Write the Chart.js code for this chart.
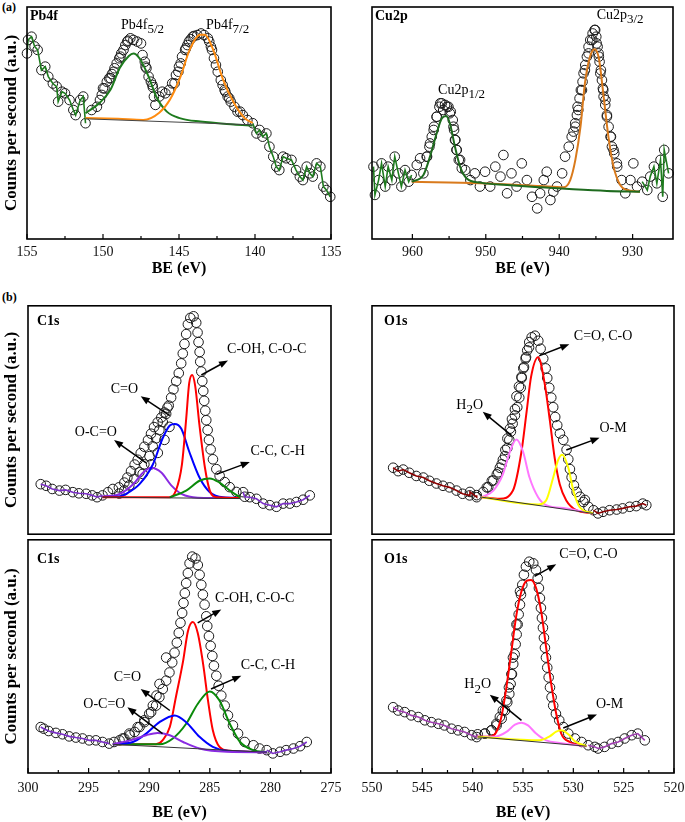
<!DOCTYPE html>
<html>
<head>
<meta charset="utf-8">
<script src="https://cdn.jsdelivr.net/npm/chart.js@4.4.0/dist/chart.umd.min.js"></script>
<style>
  body { margin: 0; background: #fff; width: 685px; height: 822px; position: relative; overflow: hidden; font-family: "Liberation Serif", serif; }
  .panel { position: absolute; }
  .tag { position: absolute; font-weight: bold; font-size: 12px; line-height: 12px; color: #000; }
</style>
</head>
<body>
<div class="tag" style="left:2px;top:1px">(a)</div>
<div class="tag" style="left:2px;top:291px">(b)</div>
<script>
// ---- axis ticks (binding energy, eV) ----
const pbTicks  = [155, 150, 145, 140, 135];
const cuTicks  = [960, 950, 940, 930];
const c1sTicks = [300, 295, 290, 285, 280, 275];
const o1sTicks = [550, 545, 540, 535, 530, 525, 520];

// ---- Pb4f: measured points [BE, counts %] and fitted curves ----
const pbSpectrum = [[155.0,80],[154.93,85.8],[154.7,87.2],[154.5,83],[154.3,81.5],[154.05,72.8],[153.8,74.3],[153.6,70],[153.3,67],[153.05,65.7],[152.95,59.2],[152.7,63.5],[152.5,62.8],[152.2,59.9],[151.95,55.6],[151.8,53.4],[151.5,59.9],[151.3,61.4],[151.15,49.9],[150.75,55.6],[150.4,57],[150.2,59.9],[150.08,62.1],[150.0,65],[149.9,64.9],[149.75,67.8],[149.59,69.3],[149.5,69.3],[149.41,71.1],[149.3,72.1],[149.24,73.6],[149.1,75.7],[148.93,77.9],[148.85,78.6],[148.8,80],[148.65,81.5],[148.53,83.6],[148.4,85.1],[148.36,85.5],[148.2,86.5],[148.0,85.8],[147.75,85.1],[147.5,84.3],[147.4,79.3],[147.25,76.4],[147.2,74.3],[147.14,73.6],[147.0,70],[146.85,67.8],[146.75,66.4],[146.72,65.4],[146.65,61.4],[146.55,57.8],[146.3,61.4],[146.1,63.5],[145.9,62.8],[145.65,64.2],[145.45,67.1],[145.29,67.1],[145.2,70.7],[145.04,72.1],[145.0,74.3],[144.89,75.7],[144.8,78.6],[144.6,81.5],[144.55,82.2],[144.45,83.6],[144.35,85.1],[144.23,86.1],[144.1,87.2],[144.01,87.5],[143.8,87.9],[143.55,88.6],[143.35,87.9],[143.1,86.5],[143.01,85.1],[142.9,82.9],[142.83,81.5],[142.7,77.9],[142.57,75],[142.45,72.1],[142.25,68.5],[142.13,66.4],[142.0,64.2],[141.95,63.5],[141.8,61.4],[141.69,60.6],[141.6,59.2],[141.35,57],[141.15,54.9],[140.98,54.9],[140.8,53.4],[140.5,51.3],[140.15,49.9],[139.9,45.5],[139.7,47],[139.5,44.1],[139.25,45.5],[139.05,39.8],[138.8,35.5],[138.6,31.2],[138.4,29.7],[138.15,35.5],[137.95,34.8],[137.6,34.1],[137.3,29.7],[137.05,26.9],[136.85,25.4],[136.6,31.2],[136.4,28.3],[136.2,26.9],[135.95,32.6],[135.7,31.2],[135.5,22.6],[135.3,21.1],[135.05,18.2]];
const pbFit52 = [[151.15,54.2],[150.2,58.8],[149.5,64.4],[148.9,73.7],[148.3,78.9],[148.0,80],[147.6,77.9],[147.0,70],[146.5,61.4],[145.8,54.9],[144.9,52],[143.6,50.6],[141.4,49.4],[140.15,48.9]];
const pbFit72 = [[151.15,52.2],[149.0,51.8],[147.35,51.3],[146.3,54.4],[145.6,60],[144.9,70],[144.3,81.5],[143.6,88],[143.3,88],[142.75,81.5],[142.1,68.7],[141.4,58.8],[140.7,52.2],[140.15,50]];
const pbBackground = [[151.15,51.8],[140.15,49.2]];

// ---- Cu2p ----
const cuSpectrum = [[965.3,31.2],[965.1,19],[964.6,25.4],[964.2,32.6],[963.7,22.6],[963.3,31.2],[962.8,25.4],[962.4,35.5],[961.9,28.3],[961.5,22.6],[961.0,29.7],[960.5,24.7],[960.1,27.6],[959.4,31.9],[958.95,34.8],[958.5,28.3],[958.05,35.5],[958.0,35.5],[957.68,39.8],[957.6,41.2],[957.36,44.1],[957.1,47],[957.05,48.4],[956.7,52.7],[956.68,52.7],[956.32,57],[956.2,58.5],[956.0,58.5],[955.8,55.6],[955.55,57.8],[955.3,57],[955.09,57],[954.9,54.2],[954.77,54.9],[954.5,51.3],[954.4,48.4],[954.32,47],[954.2,42.7],[954.14,42.7],[954.0,38.4],[953.95,38.4],[953.68,34.1],[953.5,34.1],[953.27,30.5],[952.8,29.7],[952.1,25.4],[951.5,28.3],[950.8,22.6],[950.1,29],[949.4,22.6],[948.7,31.2],[948.0,26.9],[947.6,36.2],[947.1,19.7],[946.5,28.3],[945.8,22.6],[945.1,32.6],[944.4,25.4],[943.7,18.2],[943.0,13.2],[942.6,19.7],[942.1,25.4],[941.7,29],[941.2,16.8],[940.8,20.4],[940.3,22.6],[939.6,28.3],[939.2,35.5],[938.7,39.8],[938.3,44.1],[938.05,46.3],[937.82,49.9],[937.8,48.4],[937.59,53.4],[937.5,57],[937.4,55.6],[937.23,60.6],[937.05,64.2],[936.9,64.2],[936.82,67.8],[936.68,71.4],[936.5,72.8],[936.45,75],[936.23,78.6],[936.0,80],[936.0,82.9],[935.77,85.8],[935.5,85.8],[935.45,88.6],[935.18,90.1],[935.1,90.1],[934.95,87.2],[934.9,84.3],[934.77,82.9],[934.64,80],[934.6,78.6],[934.5,76.4],[934.4,71.4],[934.32,72.8],[934.18,68.5],[934.05,64.9],[934.0,64.2],[933.95,61.4],[933.73,57.8],[933.7,59.9],[933.5,52.7],[933.5,53.4],[933.27,48.4],[933.0,44.1],[932.95,44.1],[932.82,39.8],[932.6,38.4],[932.5,36.9],[932.14,32.6],[932.1,31.2],[931.5,25.4],[931.0,19.7],[930.3,25.4],[929.9,32.6],[929.4,22.6],[928.7,24.7],[928.0,21.1],[927.6,26.9],[927.1,31.2],[926.7,24],[926.2,34.1],[925.9,18.2],[925.7,38.4],[925.1,28.3]];
const cuFit12 = [[960.1,24.7],[958.5,27.6],[957.6,35.5],[956.7,45.5],[956.0,52],[955.4,53],[954.9,49.9],[954.2,39.8],[953.5,31.2],[952.6,26.1],[950.8,24.3],[947.1,23.3],[942.6,22.3],[938.1,21.4],[933.5,20.7],[929.0,20.4]];
const cuFit32 = [[960.1,24.7],[950.8,24],[942.6,22.8],[939.4,22.3],[938.5,25.4],[937.8,34.1],[937.1,48.4],[936.5,67.1],[935.8,78.6],[935.2,81.8],[934.6,77.9],[934.0,62.8],[933.3,44.1],[932.6,31.2],[931.7,23.3],[930.8,21.1],[929.0,20.4]];

// ---- C1s (upper sample) ----
const c1sTopSpectrum = [[298.95,21.9],[298.5,21.2],[298.0,19.8],[297.4,19.1],[296.9,19.4],[296.3,18.4],[295.8,17.9],[295.2,17.7],[294.7,17],[294.3,16.2],[293.85,17],[293.4,18.4],[293.0,19.8],[292.5,20.5],[292.47,17.8],[292.05,19.2],[292.05,22.6],[291.8,24.8],[291.64,21.4],[291.5,27.6],[291.23,24.2],[291.2,30.5],[290.95,32.6],[290.81,27.1],[290.7,35.5],[290.54,26.4],[290.4,30.6],[290.4,38.3],[290.1,41.2],[289.98,34.2],[289.85,44],[289.84,30.6],[289.71,38.5],[289.6,46.9],[289.43,42],[289.3,49],[289.29,35.6],[289.16,45.6],[289.0,51.1],[288.88,49.1],[288.75,53.3],[288.74,41.3],[288.6,52.7],[288.5,55.4],[288.39,56.3],[288.33,47],[288.19,59.8],[288.0,63.4],[287.77,67],[287.56,70.5],[287.36,74.8],[287.23,79.1],[287.09,83.3],[286.95,87.6],[286.81,91.9],[286.61,94.7],[286.34,95.4],[286.12,92.6],[286.01,88.3],[285.93,84.1],[285.84,79.8],[285.79,75.5],[285.7,71.2],[285.62,67],[285.54,62.7],[285.46,58.4],[285.37,54.1],[285.29,49.9],[285.18,45.6],[285.07,41.3],[284.93,37.1],[284.74,32.8],[284.46,28.5],[284.19,25.6],[283.77,22.8],[283.36,20.6],[282.81,18.5],[282.25,18.4],[282.12,16.4],[281.7,16.2],[281.15,15.5],[280.6,13.4],[280.05,12.7],[279.5,12],[278.95,13.4],[278.4,13.4],[277.85,14.1],[277.3,15.1],[276.75,17]];
const c1sTopOCO  = [[293.85,16.5],[292.5,17.5],[291.3,22],[290.5,27],[289.85,29.1],[289.0,27],[288.2,21.5],[287.3,17.5],[286.0,16],[282.8,15.8]];
const c1sTopCO   = [[293.85,16.3],[292.5,16.5],[291.9,17.7],[290.8,21.9],[289.7,30.5],[288.9,41.9],[288.3,47.6],[287.9,48.3],[287.35,46.2],[286.7,36.2],[285.85,24.8],[285.0,18.4],[283.9,16.2],[282.5,16]];
const c1sTopCOH  = [[293.85,16.2],[288.3,16.2],[287.8,19.1],[287.3,30.5],[286.95,50.4],[286.7,66.1],[286.45,69.7],[286.2,64.7],[285.85,47.6],[285.4,29.1],[285.0,19.1],[284.45,16.2],[282.5,15.8]];
const c1sTopCC   = [[288.3,16.2],[286.95,19.1],[285.85,23.4],[285.0,24.4],[284.2,22.6],[283.35,19.1],[282.5,16.2]];
const c1sTopBase = [[293.85,16.2],[282.5,15.6]];

// ---- O1s (upper sample) ----
const o1sTopSpectrum = [[547.9,29.1],[547.4,27.6],[546.9,28.3],[546.3,26.9],[545.6,25.5],[544.9,24.8],[544.3,23.4],[543.6,22.2],[542.95,21.2],[542.3,20.5],[541.6,19.1],[541.0,17.7],[540.3,17],[540.27,18.5],[539.6,16.2],[539.6,17.1],[538.95,18.5],[538.6,20.5],[538.45,20.6],[538.1,23.4],[537.95,23.5],[537.6,26.2],[537.46,27.1],[537.3,29.1],[537.12,30.6],[537.0,32.6],[536.79,34.2],[536.75,36.9],[536.56,37.7],[536.55,41.9],[536.36,41.3],[536.3,46.2],[536.2,44.9],[536.1,50.4],[536.03,48.4],[535.8,52],[535.8,54.7],[535.65,60.4],[535.57,55.6],[535.4,64.7],[535.37,59.8],[535.23,64.1],[535.15,68.9],[535.13,68.4],[534.97,72.6],[534.9,73.2],[534.74,76.9],[534.7,77.5],[534.58,80.5],[534.4,81.8],[534.38,84.1],[534.14,86.2],[533.81,86.9],[533.48,84.7],[533.25,81.2],[532.99,76.9],[532.75,72.6],[532.59,68.4],[532.39,64.1],[532.19,59.8],[532.0,55.6],[531.8,51.3],[531.6,47.7],[531.33,44.1],[531.0,41.3],[530.67,37],[530.5,32.8],[530.34,28.5],[530.17,24.9],[529.94,21.4],[529.67,18.5],[529.34,16.4],[529.0,14.1],[528.85,15],[528.5,12],[528.0,10.5],[527.55,9.1],[527.05,9.8],[526.4,10.5],[525.7,10.8],[525.1,11.3],[524.4,12],[523.75,12.3],[523.1,13.4],[522.75,12.7]];
const o1sTopH2O  = [[539.1,16.2],[537.95,19.1],[537.0,26.2],[536.3,36.2],[535.65,41.5],[535.0,36.2],[534.35,24.8],[533.5,16.2],[532.7,12.7],[530.7,11.3],[528.05,9.1]];
const o1sTopCO   = [[539.1,16.2],[537.3,15.5],[536.0,19.1],[535.15,36.2],[534.65,53.3],[534.2,68.9],[533.5,77.5],[532.85,66.1],[532.35,50.4],[531.85,33.3],[531.35,21.9],[530.7,14.8],[529.7,10.5],[528.05,9.1]];
const o1sTopOM   = [[539.1,16.2],[533.5,13],[532.7,14.8],[532.0,24.8],[531.5,32.6],[531.1,34.8],[530.5,29.1],[530.0,19.1],[529.4,12],[528.05,9.1]];
const o1sTopBase = [[539.1,16.2],[528.05,9.1]];

// ---- C1s (lower sample) ----
const c1sBotSpectrum = [[298.95,19.7],[298.7,19],[298.3,18],[297.7,17.2],[297.15,16.6],[296.6,15.7],[296.05,15.2],[295.5,14.8],[294.95,14],[294.4,14],[293.85,13.3],[293.3,12.6],[292.9,13.3],[292.45,14],[292.19,14.8],[292.05,14.8],[291.64,16.9],[291.6,16.2],[291.2,17.6],[290.95,19.7],[290.8,19.7],[290.4,22.6],[290.4,21.8],[290.0,25.4],[289.84,26.1],[289.7,28.9],[289.43,28.9],[289.4,33.2],[289.16,32.5],[289.15,38.2],[288.88,36],[288.6,39.6],[288.6,49.5],[288.33,43.1],[288.1,47.4],[287.91,51.6],[287.72,55.9],[287.56,60.1],[287.42,64.4],[287.28,68.6],[287.17,72.9],[287.06,77.1],[286.95,81.4],[286.81,85.7],[286.67,89.9],[286.45,92.8],[286.18,92],[285.99,89.2],[285.84,85],[285.7,80.7],[285.57,76.5],[285.43,72.2],[285.29,67.2],[285.21,63],[285.07,58.7],[284.93,54.5],[284.79,50.2],[284.66,46],[284.46,41.7],[284.27,37.4],[284.05,33.2],[283.77,28.9],[283.5,24.7],[283.09,20.4],[282.67,16.9],[282.12,13.3],[281.4,11.9],[280.9,10.5],[280.3,9.8],[279.8,8.4],[279.2,9.1],[278.7,9.8],[278.1,10.5],[277.55,11.5],[277.0,13.3]];
const c1sBotOCO  = [[293.0,12.3],[291.35,14.3],[290.25,16.2],[289.3,17.2],[288.3,16.2],[287.2,13.3],[285.85,10.5],[283.6,9.1],[280.3,8.9]];
const c1sBotCO   = [[293.0,12.3],[291.35,13.3],[290.25,16.9],[289.15,21.8],[287.9,24.7],[286.95,21.8],[285.85,15.5],[284.75,11.2],[283.6,9.5],[280.3,8.9]];
const c1sBotCOH  = [[293.0,12.3],[289.45,12.3],[288.9,14],[288.3,19.7],[287.8,32.5],[287.2,48.1],[286.8,60.9],[286.4,64.7],[286.0,60.1],[285.55,46.7],[285.15,31.1],[284.75,18.3],[284.2,11.2],[283.35,9.5],[280.3,8.9]];
const c1sBotCC   = [[293.0,12.3],[289.15,12.3],[288.05,14.8],[286.95,21.1],[286.0,29.6],[285.0,35],[284.2,31.1],[283.35,21.1],[282.5,13.3],[281.4,9.8],[280.3,8.9]];
const c1sBotBase = [[293.0,12.3],[286.0,10.4],[280.3,8.9]];

// ---- O1s (lower sample) ----
const o1sBotSpectrum = [[547.9,28.2],[547.4,26.8],[546.75,26.1],[546.1,24.7],[545.4,24],[544.75,22.6],[544.1,21.8],[543.4,21.1],[542.8,20.4],[542.1,19],[541.45,18.3],[540.8,17.6],[540.1,16.2],[539.6,15.4],[539.5,16.6],[538.8,16.9],[538.78,16.9],[538.15,18.3],[538.11,18.3],[537.65,21.1],[537.62,20.4],[537.3,24],[537.12,23.3],[537.0,26.8],[536.79,26.8],[536.65,31.1],[536.56,30.3],[536.4,36.7],[536.36,33.9],[536.23,38.2],[536.15,42.4],[536.1,42.4],[536.0,49.5],[535.97,46.7],[535.83,50.9],[535.73,55.2],[535.65,63.7],[535.63,59.4],[535.53,63.7],[535.43,68],[535.3,72.2],[535.3,77.9],[535.2,76.5],[535.07,80.7],[534.91,85],[534.71,88.5],[534.38,90.6],[533.98,89.9],[533.71,87.1],[533.54,83.5],[533.42,79.3],[533.32,75],[533.22,70.8],[533.12,66.5],[533.02,62.3],[532.92,58],[532.82,53.7],[532.72,49.5],[532.59,45.2],[532.45,41],[532.32,36.7],[532.16,32.5],[532.0,28.9],[531.73,25.4],[531.4,22.6],[531.0,19.7],[530.5,16.9],[529.84,14.8],[529.18,13.3],[528.52,11.9],[527.86,11.2],[527.55,10.5],[526.9,11.2],[526.2,12.6],[525.55,13.3],[524.9,14.8],[524.2,16.2],[523.6,16.9],[522.9,14]];
const o1sBotH2O  = [[539.5,15.5],[537.65,15.7],[536.65,17.6],[535.8,20.7],[535.15,21.6],[534.5,20.4],[533.7,16.9],[532.7,14],[531.35,12.9],[528.7,11.5]];
const o1sBotCO   = [[539.5,15.5],[538.15,15.7],[537.65,17.6],[537.15,24],[536.65,36.7],[536.15,52.3],[535.65,67.9],[535.15,77.9],[534.65,82.4],[534.2,82.8],[533.7,79.3],[533.2,69.4],[532.7,53.8],[532.2,38.2],[531.7,25.4],[531.2,16.9],[530.35,13.3],[528.7,11.5]];
const o1sBotOM   = [[539.5,15.5],[533.35,14],[532.35,15.7],[531.7,17.7],[531.2,18.3],[530.5,16.6],[529.85,13.6],[528.7,11.5]];
const o1sBotBase = [[539.5,15.5],[528.7,11.5]];

const FONT = '"Liberation Serif", "Times New Roman", serif';
Chart.defaults.font.family = FONT;
Chart.defaults.color = '#111';

const pts = a => a.map(([x, y]) => ({ x, y }));

// labels with optional subscript parts: [text, isSub]
function drawRich(ctx, parts, cx, cy, size) {
  const fontOf = sub => (sub ? size - 1 : size) + 'px ' + FONT;
  let w = 0;
  parts.forEach(([t, sub]) => { ctx.font = fontOf(sub); w += ctx.measureText(t).width; });
  let x = cx - w / 2;
  ctx.textAlign = 'left';
  ctx.textBaseline = 'middle';
  parts.forEach(([t, sub]) => {
    ctx.font = fontOf(sub);
    ctx.fillText(t, x, cy + (sub ? size * 0.32 : 0));
    x += ctx.measureText(t).width;
  });
}

function deco(p) {
  return {
    id: 'deco',
    afterDatasetsDraw(chart) {
      const { ctx, chartArea: a, scales: { x, y } } = chart;
      ctx.save();
      ctx.strokeStyle = '#000';
      ctx.fillStyle = '#000';
      ctx.lineWidth = 1.6;
      ctx.strokeRect(a.left, a.top, a.right - a.left, a.bottom - a.top);

      if (p.showX) {
        ctx.lineWidth = 1.2;
        const mark = (v, len) => {
          const px = x.getPixelForValue(v);
          ctx.beginPath(); ctx.moveTo(px, a.bottom); ctx.lineTo(px, a.bottom - len); ctx.stroke();
        };
        p.ticks.forEach(v => mark(v, 5));
        p.ticks.slice(1).forEach((v, i) => mark((v + p.ticks[i]) / 2, 3));
      }

      ctx.font = 'bold 14px ' + FONT;
      ctx.textAlign = 'left';
      ctx.textBaseline = 'middle';
      ctx.fillText(p.name, a.left + p.nameAt[0], a.top + p.nameAt[1]);

      ctx.lineWidth = 1.5;
      (p.arrows || []).forEach(([x1, y1, x2, y2]) => {
        const ax = x.getPixelForValue(x1), ay = y.getPixelForValue(y1);
        const bx = x.getPixelForValue(x2), by = y.getPixelForValue(y2);
        const ang = Math.atan2(by - ay, bx - ax), c = Math.cos(ang), s = Math.sin(ang);
        ctx.beginPath(); ctx.moveTo(ax, ay); ctx.lineTo(bx - 6 * c, by - 6 * s); ctx.stroke();
        ctx.beginPath();
        ctx.moveTo(bx, by);
        ctx.lineTo(bx - 9 * c + 3.5 * s, by - 9 * s - 3.5 * c);
        ctx.lineTo(bx - 9 * c - 3.5 * s, by - 9 * s + 3.5 * c);
        ctx.closePath(); ctx.fill();
      });

      (p.notes || []).forEach(n => drawRich(ctx, n.parts, x.getPixelForValue(n.x), y.getPixelForValue(n.y), 14));
      ctx.restore();
    }
  };
}

function makeChart(p) {
  const [left, top, w, h] = p.box;
  const wrap = document.createElement('div');
  wrap.className = 'panel';
  wrap.style.cssText = `left:${left}px;top:${top}px;width:${w}px;height:${h}px`;
  const cv = document.createElement('canvas');
  cv.width = w; cv.height = h;
  wrap.appendChild(cv);
  document.body.appendChild(wrap);

  const lines = p.lines.map(l => ({
    data: pts(l.data), showLine: true, pointRadius: 0,
    borderColor: l.color, borderWidth: l.width || 2,
    tension: 0.4, cubicInterpolationMode: 'monotone',
    order: 1
  }));
  // outside the fitted window the envelope simply follows the measured points
  const [hiCut, loCut] = p.edges;
  const byBE = (a, b) => b[0] - a[0];
  const tails = [p.spectrum.filter(q => q[0] >= hiCut), p.spectrum.filter(q => q[0] <= loCut)].map(t => ({
    data: pts(t.slice().sort(byBE)), showLine: true, pointRadius: 0, borderColor: p.tailColor, borderWidth: 1.6,
    tension: 0, order: 2
  }));
  const circles = {
    data: pts(p.spectrum), showLine: false, pointRadius: 4.8, pointBorderWidth: 1,
    pointBorderColor: '#1a1a1a', pointBackgroundColor: 'rgba(0,0,0,0)', order: 9, clip: false
  };

  new Chart(cv, {
    type: 'scatter',
    data: { datasets: [...lines, ...tails, circles] },
    options: {
      responsive: false, animation: false, events: [],
      layout: { padding: p.pad },
      plugins: { legend: { display: false }, tooltip: { enabled: false } },
      scales: {
        x: {
          type: 'linear', reverse: true, min: p.range[0], max: p.range[1],
          display: p.showX,
          grid: { display: false, drawTicks: false }, border: { display: false },
          afterBuildTicks: s => { s.ticks = p.ticks.map(v => ({ value: v })); },
          ticks: { autoSkip: false, maxRotation: 0, padding: p.tickPad, font: { size: 14 }, color: '#111' },
          title: { display: true, text: 'BE (eV)', font: { size: 16, weight: 'bold' }, color: '#000', padding: 0 },
          afterFit: s => { s.height = p.xHeight; s.paddingLeft = 0; s.paddingRight = 0; }
        },
        y: {
          min: 0, max: 100,
          grid: { display: false, drawTicks: false }, border: { display: false },
          ticks: { display: false },
          title: { display: p.yTitle, text: 'Counts per second (a.u.)', font: { size: 17, weight: 'bold' }, color: '#000', padding: { top: 1, bottom: 0 } },
          afterFit: s => { s.width = p.yWidth; }
        }
      }
    },
    plugins: [deco(p)]
  });
}

makeChart({
  box: [0, 0, 345, 278], pad: { top: 7, right: 14, bottom: 0, left: 0 }, yWidth: 27, yTitle: true,
  showX: true, xHeight: 39, tickPad: 5, range: [135, 155], ticks: pbTicks,
  spectrum: pbSpectrum, edges: [151.15, 140.15], tailColor: '#1e7b1e',
  lines: [
    { data: pbBackground, color: '#444', width: 1 },
    { data: pbFit72, color: '#ff8c10' },
    { data: pbFit52, color: '#1e7b1e' }
  ],
  name: 'Pb4f', nameAt: [3, 9],
  notes: [
    { x: 147.4, y: 92.2, parts: [['Pb4f'], ['5/2', 1]] },
    { x: 141.8, y: 92.2, parts: [['Pb4f'], ['7/2', 1]] }
  ]
});

makeChart({
  box: [345, 0, 340, 278], pad: { top: 7, right: 12, bottom: 0, left: 0 }, yWidth: 27, yTitle: false,
  showX: true, xHeight: 39, tickPad: 5, range: [924.5, 965.5], ticks: cuTicks,
  spectrum: cuSpectrum, edges: [960.1, 929.0], tailColor: '#1e7b1e',
  lines: [
    { data: cuFit12, color: '#1e6b1e' },
    { data: cuFit32, color: '#d97a1c' }
  ],
  name: 'Cu2p', nameAt: [3, 9],
  notes: [
    { x: 931.7, y: 96.6, parts: [['Cu2p'], ['3/2', 1]] },
    { x: 953.3, y: 64.2, parts: [['Cu2p'], ['1/2', 1]] }
  ]
});

makeChart({
  box: [0, 300, 345, 240], pad: { top: 4, right: 14, bottom: 2, left: 0 }, yWidth: 28, yTitle: true,
  showX: false, xHeight: 0, tickPad: 0, range: [275, 300], ticks: c1sTicks,
  spectrum: c1sTopSpectrum, edges: [293.85, 282.8], tailColor: '#7b2fc8',
  lines: [
    { data: c1sTopBase, color: '#333', width: 1 },
    { data: c1sTopCC, color: '#0a8a0a' },
    { data: c1sTopCOH, color: '#ff0000' },
    { data: c1sTopCO, color: '#0000ff' },
    { data: c1sTopOCO, color: '#8a2be2' }
  ],
  name: 'C1s', nameAt: [9, 16],
  notes: [
    { x: 280.3, y: 81, parts: [['C-OH, C-O-C']] },
    { x: 292.05, y: 63.5, parts: [['C=O']] },
    { x: 294.4, y: 44.7, parts: [['O-C=O']] },
    { x: 279.4, y: 36.2, parts: [['C-C, C-H']] }
  ],
  arrows: [[285.7, 69.7, 283.5, 76.1], [288.3, 51.9, 290.7, 60.4], [290.25, 31.2, 292.9, 41.2], [284.45, 26.2, 281.7, 31.6]]
});

makeChart({
  box: [345, 300, 340, 240], pad: { top: 4, right: 11, bottom: 2, left: 0 }, yWidth: 27, yTitle: false,
  showX: false, xHeight: 0, tickPad: 0, range: [520, 550], ticks: o1sTicks,
  spectrum: o1sTopSpectrum, edges: [539.1, 528.0], tailColor: '#8b0000',
  lines: [
    { data: o1sTopBase, color: '#333', width: 1 },
    { data: o1sTopOM, color: '#ffff00' },
    { data: o1sTopH2O, color: '#ff77ff' },
    { data: o1sTopCO, color: '#ff0000' }
  ],
  name: 'O1s', nameAt: [12, 16],
  notes: [
    { x: 527.05, y: 86.8, parts: [['C=O, C-O']] },
    { x: 540.3, y: 56.4, parts: [['H'], ['2', 1], ['O']] },
    { x: 526.05, y: 46.2, parts: [['O-M']] }
  ],
  arrows: [[533.35, 78.2, 530.4, 83.2], [536.15, 43.3, 539.0, 53.6], [530.7, 36.9, 527.4, 42.2]]
});

makeChart({
  box: [0, 534, 345, 288], pad: { top: 4, right: 14, bottom: 0, left: 0 }, yWidth: 28, yTitle: true,
  showX: true, xHeight: 49, tickPad: 7, range: [275, 300], ticks: c1sTicks,
  spectrum: c1sBotSpectrum, edges: [293.0, 280.3], tailColor: '#7b2fc8',
  lines: [
    { data: c1sBotBase, color: '#333', width: 1 },
    { data: c1sBotOCO, color: '#8a2be2' },
    { data: c1sBotCO, color: '#0000ff' },
    { data: c1sBotCC, color: '#0a8a0a' },
    { data: c1sBotCOH, color: '#ff0000' }
  ],
  name: 'C1s', nameAt: [9, 20],
  notes: [
    { x: 281.3, y: 75, parts: [['C-OH, C-O-C']] },
    { x: 280.2, y: 46, parts: [['C-C, C-H']] },
    { x: 291.8, y: 41, parts: [['C=O']] },
    { x: 293.7, y: 29.6, parts: [['O-C=O']] }
  ],
  arrows: [[286.0, 64.4, 284.05, 70.1], [284.9, 36, 282.4, 41.7], [288.3, 26.8, 290.7, 36], [288.9, 16.9, 291.8, 28.2]]
});

makeChart({
  box: [345, 534, 340, 288], pad: { top: 4, right: 11, bottom: 0, left: 0 }, yWidth: 27, yTitle: false,
  showX: true, xHeight: 49, tickPad: 7, range: [520, 550], ticks: o1sTicks,
  spectrum: o1sBotSpectrum, edges: [539.5, 528.7], tailColor: '#a040b0',
  lines: [
    { data: o1sBotBase, color: '#333', width: 1 },
    { data: o1sBotOM, color: '#ffff00' },
    { data: o1sBotH2O, color: '#ff77ff' },
    { data: o1sBotCO, color: '#ff0000' }
  ],
  name: 'O1s', nameAt: [12, 20],
  notes: [
    { x: 528.5, y: 93.8, parts: [['C=O, C-O']] },
    { x: 539.5, y: 37.9, parts: [['H'], ['2', 1], ['O']] },
    { x: 526.4, y: 29.6, parts: [['O-M']] }
  ],
  arrows: [[533.85, 84.3, 531.7, 89.5], [535.15, 22.6, 538.3, 33.6], [531.0, 19.3, 527.65, 25.1]]
});
</script>
</body>
</html>
